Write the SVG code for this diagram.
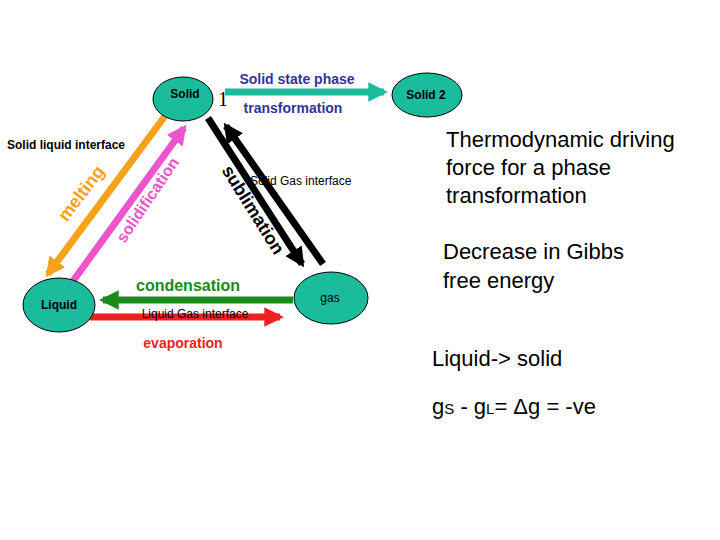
<svg xmlns="http://www.w3.org/2000/svg" width="720" height="540" viewBox="0 0 720 540">
<style>
.n{fill:#1abc9c;fill-opacity:1;stroke:#000;stroke-width:1}
.nt{font-family:"Liberation Sans",sans-serif;font-weight:bold;font-size:12px;text-anchor:middle}
.lb{font-family:"Liberation Sans",sans-serif;font-weight:bold}
.big{font-family:"Liberation Sans",sans-serif;font-size:22px;fill:#000}
</style>
<defs>
<marker id="ah" viewBox="0 0 10 10" refX="8" refY="5" markerWidth="2.8" markerHeight="2.8" orient="auto" markerUnits="strokeWidth"><path d="M0,0L10,5L0,10z" fill="context-stroke"/></marker>
</defs>
<rect width="720" height="540" fill="#fff"/>
<g id="connectors" fill="none" stroke-width="7">
<line x1="225" y1="92" x2="384" y2="92" stroke="#1abc9c" marker-end="url(#ah)"/>
<line x1="165" y1="116" x2="48" y2="274" stroke="#f7a21b" marker-end="url(#ah)"/>
<line x1="68" y1="288" x2="184" y2="128" stroke="#ee55cc" marker-end="url(#ah)"/>
<line x1="208" y1="118" x2="302" y2="264" stroke="#000" marker-end="url(#ah)"/>
<line x1="323" y1="264" x2="226" y2="126" stroke="#000" marker-end="url(#ah)"/>
<line x1="293" y1="300" x2="103" y2="300" stroke="#1a8a1a" marker-end="url(#ah)"/>
<line x1="90" y1="317" x2="280" y2="317" stroke="#ee2222" marker-end="url(#ah)"/>
</g>
<g id="solid"><ellipse class="n" cx="183" cy="99" rx="30" ry="22"/><text class="nt" x="185" y="98">Solid</text></g>
<g id="liquid"><ellipse class="n" cx="59" cy="305" rx="36" ry="27"/><text class="nt" x="59" y="309">Liquid</text></g>
<g id="gas"><ellipse class="n" cx="331" cy="298" rx="37" ry="26"/><text class="nt" x="330" y="302" style="font-weight:normal">gas</text></g>
<g id="solid2"><ellipse class="n" cx="427" cy="95" rx="35" ry="22"/><text class="nt" x="426" y="99">Solid 2</text></g>
<g id="labels">
<text x="218" y="106" font-family="Liberation Serif,serif" font-size="20">1</text>
<text class="lb" x="297" y="84" font-size="14" fill="#333399" text-anchor="middle">Solid state phase</text>
<text class="lb" x="293" y="113" font-size="14" fill="#333399" text-anchor="middle">transformation</text>
<text class="lb" x="7" y="149" font-size="12">Solid liquid interface</text>
<text class="lb" x="250" y="185" font-size="12" style="font-weight:normal">Solid Gas interface</text>
<text class="lb" font-size="18" fill="#f7a21b" text-anchor="middle" transform="translate(86,197) rotate(-53)">melting</text>
<text class="lb" font-size="16" fill="#ee55cc" text-anchor="middle" transform="translate(152,203) rotate(-56)">solidification</text>
<text class="lb" font-size="18" fill="#000" text-anchor="middle" transform="translate(248,213) rotate(58)">sublimation</text>
<text class="lb" x="188" y="291" font-size="16" fill="#1a8a1a" text-anchor="middle">condensation</text>
<text x="195" y="318" font-family="Liberation Sans,sans-serif" font-size="12" text-anchor="middle">Liquid Gas interface</text>
<text class="lb" x="183" y="348" font-size="14" fill="#ee2222" text-anchor="middle">evaporation</text>
<text class="big" x="446" y="147">Thermodynamic driving</text>
<text class="big" x="446" y="175">force for a phase</text>
<text class="big" x="446" y="203">transformation</text>
<text class="big" x="443" y="259">Decrease in Gibbs</text>
<text class="big" x="443" y="288">free energy</text>
<text class="big" x="432" y="366">Liquid-&gt; solid</text>
<text class="big" x="432" y="414">g<tspan font-size="15">S</tspan> - g<tspan font-size="15">L</tspan>= Δg = -ve</text>
</g>
</svg>
